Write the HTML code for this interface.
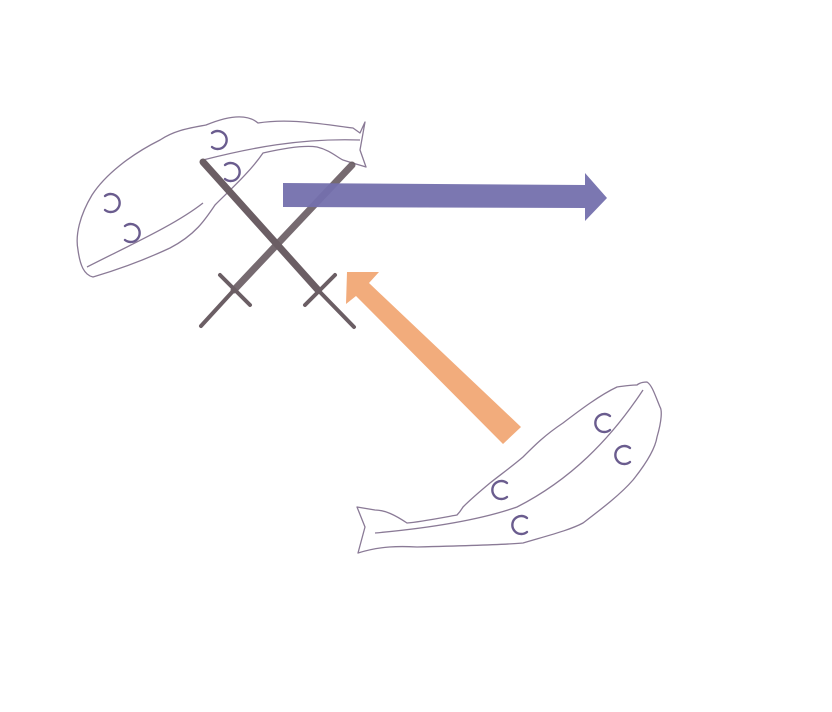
<!DOCTYPE html>
<html><head><style>html,body{margin:0;padding:0;background:#fff}svg{display:block}</style></head>
<body>
<svg width="832" height="712" viewBox="0 0 832 712" xmlns="http://www.w3.org/2000/svg">
<g fill="none" stroke="#8a7a96" stroke-width="1.3" stroke-linejoin="round">
<path d="M365,122 L360,133 L353,128 C320,124 290,118 258,123 C250,116 235,113 206,125 C190,128 175,130 160,140 C130,155 105,175 92,195 C80,215 75,235 78,250 C80,265 84,275 93,277 C110,272 140,262 170,248 C195,235 205,220 215,205 C230,190 250,172 263,153 C285,148 305,145 317,147 C330,150 338,158 343,160 C352,163 360,165 366,167 L360,150 Z"/>
<path d="M203,160 C250,148 300,138 360,140"/>
<path d="M87,267 C130,245 175,225 203,203"/>
<path d="M357,507 L365,527 L358,553 C380,546 400,546 417,547 C460,546 500,545 523,543 C550,535 570,530 583,523 C600,510 620,495 633,480 C645,465 655,450 657,437 C662,420 662,410 660,407 C655,395 652,385 647,382 C640,382 637,385 637,385 C630,385 625,386 617,387 C600,395 580,410 563,423 C545,435 535,445 523,457 C510,468 500,475 490,483 C478,493 470,500 463,507 C460,512 458,514 457,515 C440,518 420,522 407,523 C395,515 385,510 375,510 Z"/>
<path d="M375,533 C430,528 480,520 517,507 C570,480 610,440 643,390"/>
</g>
<g fill="none" stroke="#6a5c8e" stroke-width="2.4" stroke-linecap="round">
<path d="M212,133 A9,9 0 1 1 212,147"/>
<path d="M225,165 A9,9 0 1 1 225,179"/>
<path d="M105,196 A9,9 0 1 1 105,210"/>
<path d="M125,226 A9,9 0 1 1 125,240"/>
<path d="M610,416 A9,9 0 1 0 610,430"/>
<path d="M630,448 A9,9 0 1 0 630,462"/>
<path d="M507,483 A9,9 0 1 0 507,497"/>
<path d="M527,518 A9,9 0 1 0 527,532"/>
</g>
<g stroke="#6b5e64" stroke-linecap="round">
<line x1="203" y1="162" x2="318" y2="290" stroke-width="7"/>
<line x1="318" y1="290" x2="354" y2="327" stroke-width="4"/>
<line x1="335" y1="275" x2="305" y2="305" stroke-width="4"/>
<line x1="352" y1="165" x2="234" y2="290" stroke-width="7" opacity="0.92"/>
<line x1="234" y1="290" x2="201" y2="326" stroke-width="4"/>
<line x1="220" y1="275" x2="250" y2="305" stroke-width="4"/>
</g>
<polygon points="283,183 585,185 585,173 607,198 585,221 585,208 283,207" fill="#7470ad" opacity="0.95"/>
<polygon points="347,272 379,272 369,283 521,427 503,444 356,296 346,304" fill="#f2ac7c"/>
</svg>
</body></html>
